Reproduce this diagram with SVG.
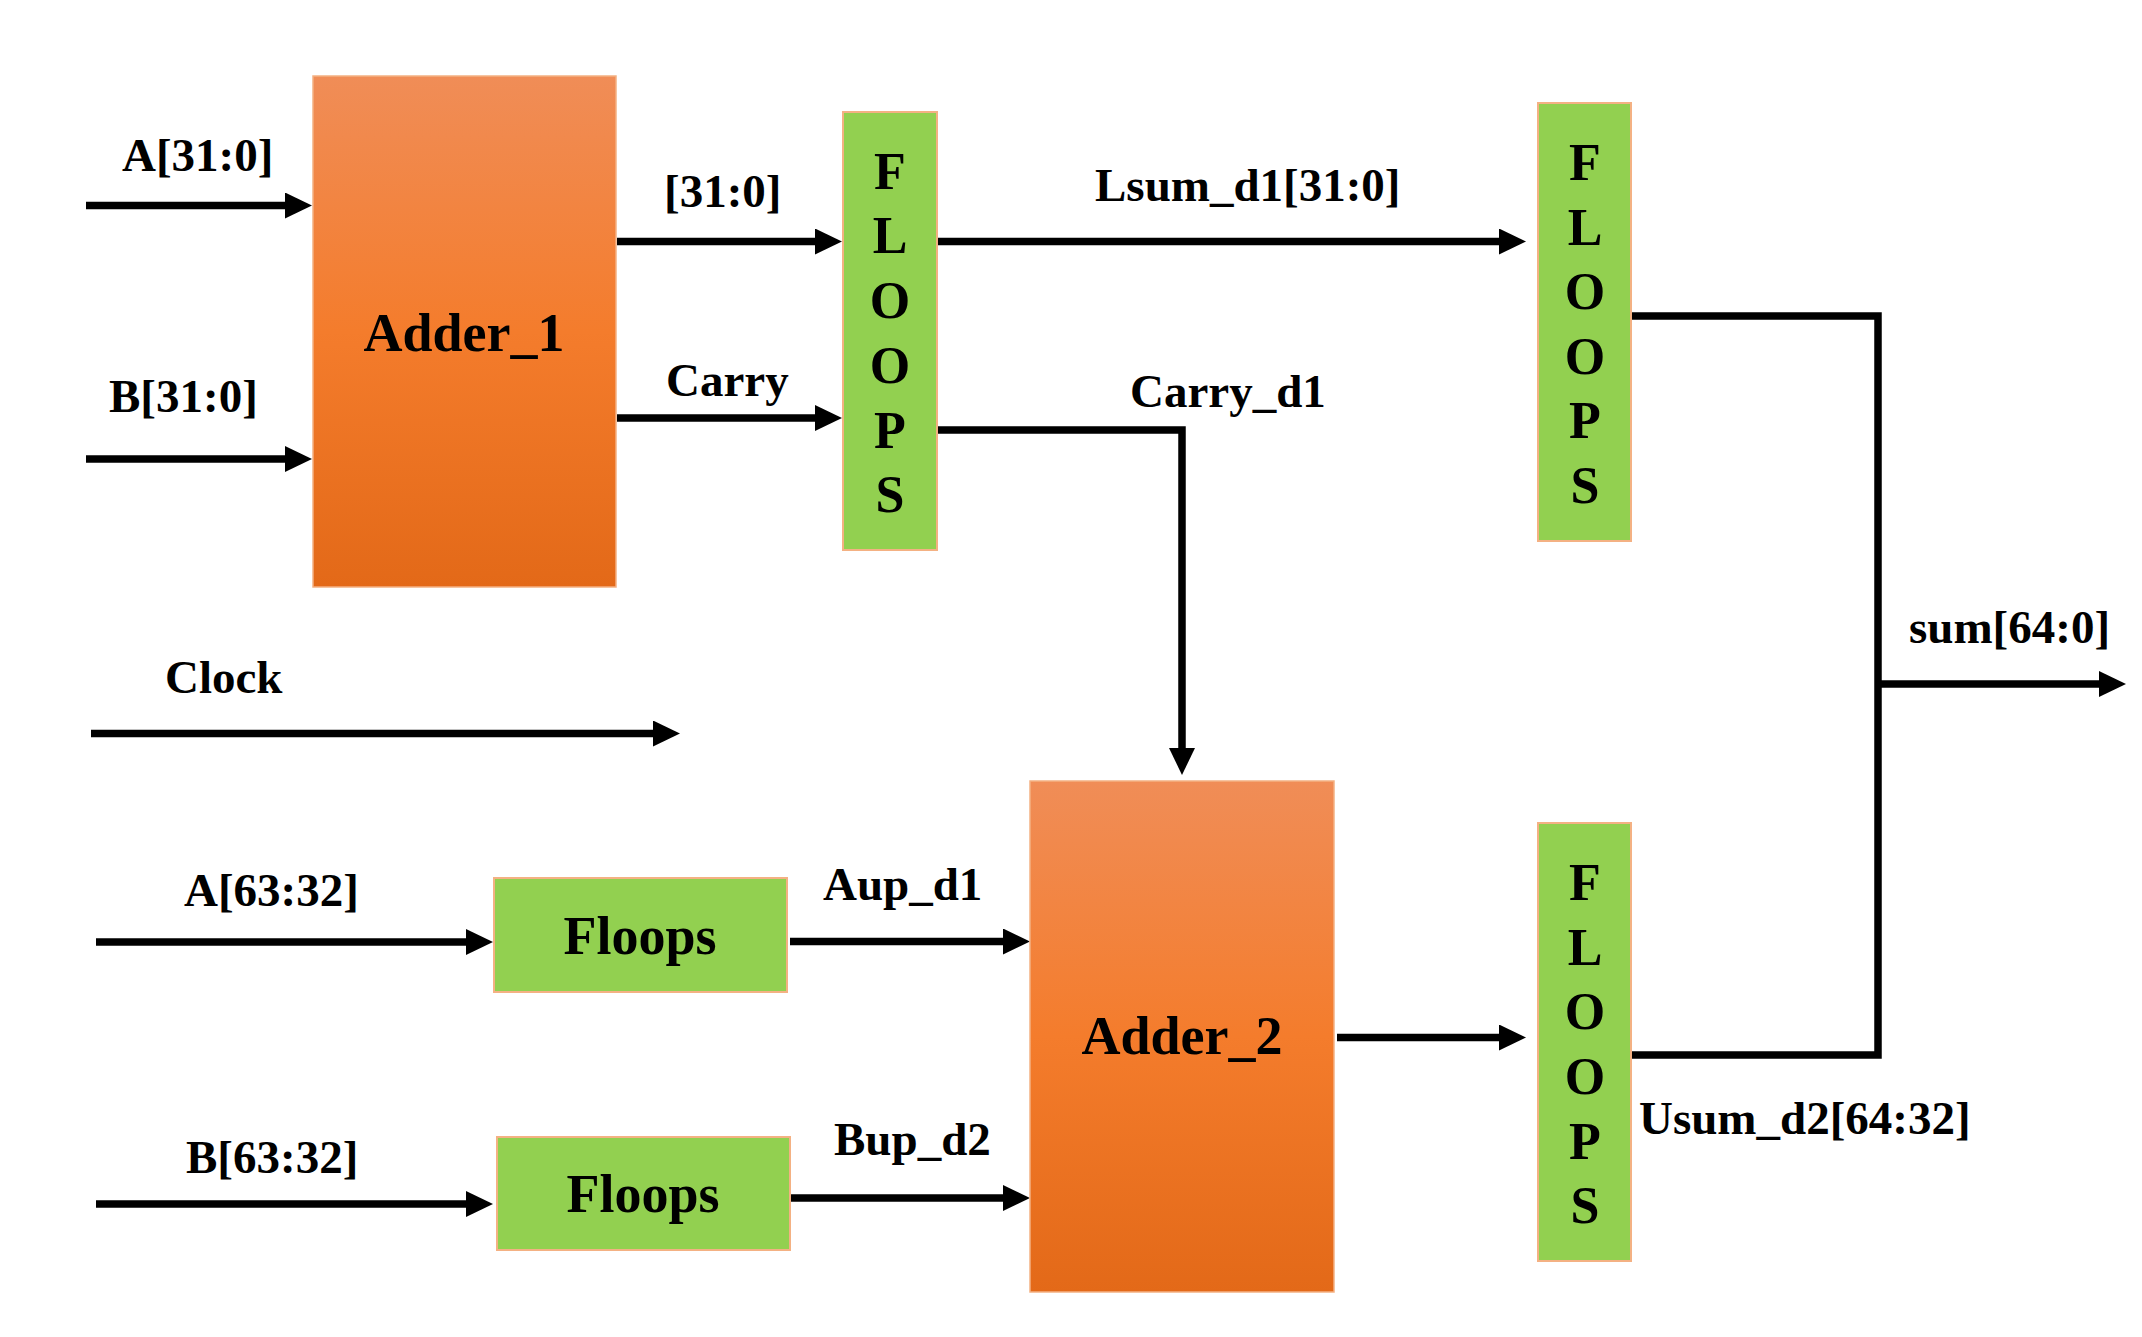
<svg xmlns="http://www.w3.org/2000/svg" width="2142" height="1337" viewBox="0 0 2142 1337">
<style>
.lbl{font-family:"Liberation Serif","Times New Roman",serif;font-weight:bold;font-size:47px;fill:#000}
.big{font-family:"Liberation Serif","Times New Roman",serif;font-weight:bold;font-size:54px;fill:#000;text-anchor:middle}
.vt{font-family:"Liberation Serif","Times New Roman",serif;font-weight:bold;font-size:52px;fill:#000;text-anchor:middle}
.adder{fill:url(#og);stroke:#F4B183;stroke-width:1.5}
.ff{fill:#92D050;stroke:#F4B183;stroke-width:2}
.w{fill:none;stroke:#000;stroke-width:7.5}
.a{fill:none;stroke:#000;stroke-width:7.5;marker-end:url(#ah)}
</style>
<defs>
<linearGradient id="og" x1="0" y1="0" x2="0" y2="1">
<stop offset="0" stop-color="#F08D57"/>
<stop offset="0.5" stop-color="#F47C2C"/>
<stop offset="1" stop-color="#E36918"/>
</linearGradient>
<marker id="ah" markerUnits="userSpaceOnUse" viewBox="0 0 27 26" markerWidth="27" markerHeight="26" refX="2" refY="13" orient="auto">
<path d="M0,0 L27,13 L0,26 z" fill="#000"/>
</marker>
</defs>
<rect width="2142" height="1337" fill="#fff"/>

<g id="connectors">
<line class="a" x1="86" y1="205.5" x2="287" y2="205.5"/>
<line class="a" x1="86" y1="459" x2="287" y2="459"/>
<line class="a" x1="617" y1="241.5" x2="817" y2="241.5"/>
<line class="a" x1="617" y1="418" x2="817" y2="418"/>
<line class="a" x1="938" y1="241.5" x2="1501" y2="241.5"/>
<path class="a" d="M938,430 H1182 V750"/>
<line class="a" x1="91" y1="733.5" x2="655" y2="733.5"/>
<line class="a" x1="96" y1="942" x2="468" y2="942"/>
<line class="a" x1="790" y1="941.5" x2="1005" y2="941.5"/>
<line class="a" x1="96" y1="1204" x2="468" y2="1204"/>
<line class="a" x1="790" y1="1198" x2="1005" y2="1198"/>
<line class="a" x1="1337" y1="1037.5" x2="1501" y2="1037.5"/>
<path class="w" d="M1632,316 H1878 V1055 H1632"/>
<line class="a" x1="1878" y1="684" x2="2101" y2="684"/>
</g>

<g id="adder1">
<rect class="adder" x="313" y="76" width="303" height="511"/>
<text class="big" x="464" y="351">Adder_1</text>
</g>

<g id="floops1">
<rect class="ff" x="843" y="112" width="94" height="438"/>
<text class="vt" x="890" y="189">F</text>
<text class="vt" x="890" y="253">L</text>
<text class="vt" x="890" y="318">O</text>
<text class="vt" x="890" y="383">O</text>
<text class="vt" x="890" y="448">P</text>
<text class="vt" x="890" y="512">S</text>
</g>

<g id="floops2">
<rect class="ff" x="1538" y="103" width="93" height="438"/>
<text class="vt" x="1585" y="180">F</text>
<text class="vt" x="1585" y="245">L</text>
<text class="vt" x="1585" y="309">O</text>
<text class="vt" x="1585" y="374">O</text>
<text class="vt" x="1585" y="438">P</text>
<text class="vt" x="1585" y="503">S</text>
</g>

<g id="floops3">
<rect class="ff" x="1538" y="823" width="93" height="438"/>
<text class="vt" x="1585" y="900">F</text>
<text class="vt" x="1585" y="965">L</text>
<text class="vt" x="1585" y="1029">O</text>
<text class="vt" x="1585" y="1094">O</text>
<text class="vt" x="1585" y="1159">P</text>
<text class="vt" x="1585" y="1223">S</text>
</g>

<g id="floopsA">
<rect class="ff" x="494" y="878" width="293" height="114"/>
<text class="big" x="640" y="954">Floops</text>
</g>

<g id="floopsB">
<rect class="ff" x="497" y="1137" width="293" height="113"/>
<text class="big" x="643" y="1212">Floops</text>
</g>

<g id="adder2">
<rect class="adder" x="1030" y="781" width="304" height="511"/>
<text class="big" x="1182" y="1054">Adder_2</text>
</g>

<g id="labels">
<text class="lbl" x="122" y="171">A[31:0]</text>
<text class="lbl" x="109" y="412">B[31:0]</text>
<text class="lbl" x="664" y="207">[31:0]</text>
<text class="lbl" x="666" y="396">Carry</text>
<text class="lbl" x="1095" y="201">Lsum_d1[31:0]</text>
<text class="lbl" x="1130" y="407">Carry_d1</text>
<text class="lbl" x="1909" y="643">sum[64:0]</text>
<text class="lbl" x="165" y="693">Clock</text>
<text class="lbl" x="184" y="906">A[63:32]</text>
<text class="lbl" x="823" y="900">Aup_d1</text>
<text class="lbl" x="186" y="1173">B[63:32]</text>
<text class="lbl" x="834" y="1155">Bup_d2</text>
<text class="lbl" x="1639" y="1134">Usum_d2[64:32]</text>
</g>
</svg>
